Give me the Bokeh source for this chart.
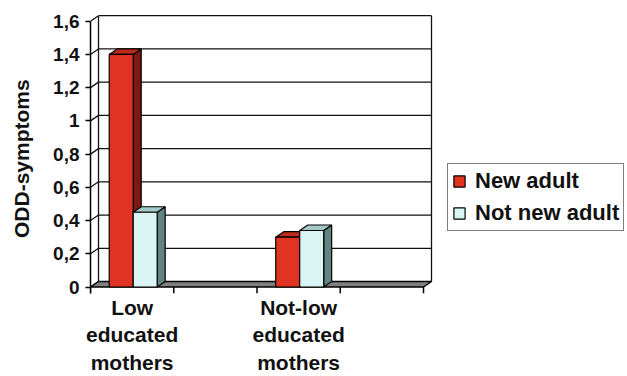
from bokeh.plotting import figure
from bokeh.models import Range1d, FixedTicker, Legend, LegendItem
from bokeh.embed import file_html
from bokeh.resources import INLINE

# ---- data ----
categories = ["Low educated mothers", "", "Not-low educated mothers", ""]
series_names = ["New adult", "Not new adult"]
new_adult = [1.40, None, 0.30, None]
not_new_adult = [0.45, None, 0.34, None]
y_ticks = [0, 0.2, 0.4, 0.6, 0.8, 1.0, 1.2, 1.4, 1.6]
y_tick_labels = ["0", "0,2", "0,4", "0,6", "0,8", "1", "1,2", "1,4", "1,6"]
y_title = "ODD-symptoms"

# ---- styling / geometry ----
FONT = "Liberation Sans"
RED = ["#E03322", "#BE2A1D", "#7C1A12"]      # front, top, side
CYAN = ["#D9F4F2", "#A3CAC8", "#618381"]
FLOOR = "#808080"
W, H = 627, 376
LEFT, BOTTOM = 90, 83
n_cat = len(categories)
ymax = y_ticks[-1]
frame_w = W - LEFT
frame_h = H - BOTTOM
unit_px = 83.25
top_px = 20.7
zero_px = 286.5
sy = (zero_px - top_px) / ymax
y_end = ymax + top_px / sy
y_start = -(frame_h - zero_px) / sy
x_end = frame_w / unit_px
dx = 8 / unit_px
dy = 5.5 / sy
bar_w = 0.288
bar_off = 0.225

p = figure(width=W, height=H, output_backend="svg", toolbar_location=None,
           x_range=Range1d(0, x_end), y_range=Range1d(y_start, y_end),
           min_border_left=LEFT, min_border_bottom=BOTTOM,
           min_border_top=0, min_border_right=0)
p.outline_line_color = None
p.xgrid.visible = False
p.ygrid.visible = False
p.background_fill_color = "white"
p.border_fill_color = "white"

# back wall gridlines and edges
gx = [[dx, n_cat + dx] for v in y_ticks[1:]]
gy = [[v + dy, v + dy] for v in y_ticks[1:]]
p.multi_line(gx, gy, line_color="#111111", line_width=1.3)
p.multi_line([[dx, dx], [n_cat + dx, n_cat + dx]],
             [[dy, ymax + dy], [dy, ymax + dy]],
             line_color="#111111", line_width=1.3)
# side wall diagonals
p.multi_line([[0, dx] for v in y_ticks], [[v, v + dy] for v in y_ticks],
             line_color="#111111", line_width=1.3)

# floor
p.patch([0, n_cat, n_cat + dx, dx], [0, 0, dy, dy],
        fill_color=FLOOR, line_color="black", line_width=1.5)

# category boundary ticks below the floor
p.multi_line([[i, i] for i in range(n_cat + 1)],
             [[0, y_start] for i in range(n_cat + 1)],
             line_color="black", line_width=1.5)

# bars
legend_renderers = []
for s_idx, (vals, cols) in enumerate([(new_adult, RED), (not_new_adult, CYAN)]):
    fx0, fx1, ftop = [], [], []
    for i, v in enumerate(vals):
        if v is None:
            continue
        x0 = i + bar_off + s_idx * bar_w
        fx0.append(x0); fx1.append(x0 + bar_w); ftop.append(v)
    p.patches([[a1, a1 + dx, a1 + dx, a1] for a1 in fx1],
              [[0, dy, t + dy, t] for t in ftop],
              fill_color=cols[2], line_color="black", line_width=1.2)
    p.patches([[a0, a1, a1 + dx, a0 + dx] for a0, a1 in zip(fx0, fx1)],
              [[t, t, t + dy, t + dy] for t in ftop],
              fill_color=cols[1], line_color="black", line_width=1.2)
    r = p.quad(left=fx0, right=fx1, bottom=0, top=ftop,
               fill_color=cols[0], line_color="black", line_width=1.2)
    legend_renderers.append(r)

# y axis
yax = p.yaxis[0]
yax.ticker = FixedTicker(ticks=y_ticks, minor_ticks=[])
yax.major_label_overrides = {v: t for v, t in zip(y_ticks, y_tick_labels)}
yax.bounds = (y_start, ymax)
yax.major_tick_out = 5
yax.major_tick_in = 0
yax.major_label_standoff = 6
yax.axis_line_width = 1.5
yax.axis_line_color = "black"
yax.major_tick_line_width = 1.5
yax.major_label_text_font = FONT
yax.major_label_text_font_style = "bold"
yax.major_label_text_font_size = "19px"
yax.major_label_text_color = "#111111"
yax.axis_label = y_title + "\u00a0" * 4
yax.axis_label_standoff = 17
yax.axis_label_text_font = FONT
yax.axis_label_text_font_style = "bold"
yax.axis_label_text_font_size = "21px"
yax.axis_label_text_color = "#111111"

# x axis: category names centred in their slots
xax = p.xaxis[0]
label_pos = [i + 0.5 for i, c in enumerate(categories) if c]
xax.ticker = FixedTicker(ticks=label_pos, minor_ticks=[])
xax.major_label_overrides = {i + 0.5: c.replace(" ", "\n") for i, c in enumerate(categories) if c}
xax.axis_line_color = None
xax.major_tick_line_color = None
xax.major_tick_out = 0
xax.major_tick_in = 0
xax.major_label_standoff = 2
xax.major_label_text_font = FONT
xax.major_label_text_font_style = "bold"
xax.major_label_text_font_size = "21px"
xax.major_label_text_line_height = 1.2
xax.major_label_text_color = "#111111"

legend = Legend(items=[LegendItem(label=n, renderers=[r]) for n, r in zip(series_names, legend_renderers)],
                location=(357, 62), orientation="vertical")
legend.label_text_font = FONT
legend.label_text_font_style = "bold"
legend.label_text_font_size = "22px"
legend.label_text_color = "#111111"
legend.glyph_width = 14
legend.glyph_height = 14
legend.label_standoff = 9
legend.padding = 4
legend.spacing = 6
legend.margin = 0
legend.border_line_color = "black"
legend.border_line_width = 1.5
legend.background_fill_color = "white"
legend.background_fill_alpha = 1
p.add_layout(legend)

open("out.html", "w").write(file_html(p, INLINE))
